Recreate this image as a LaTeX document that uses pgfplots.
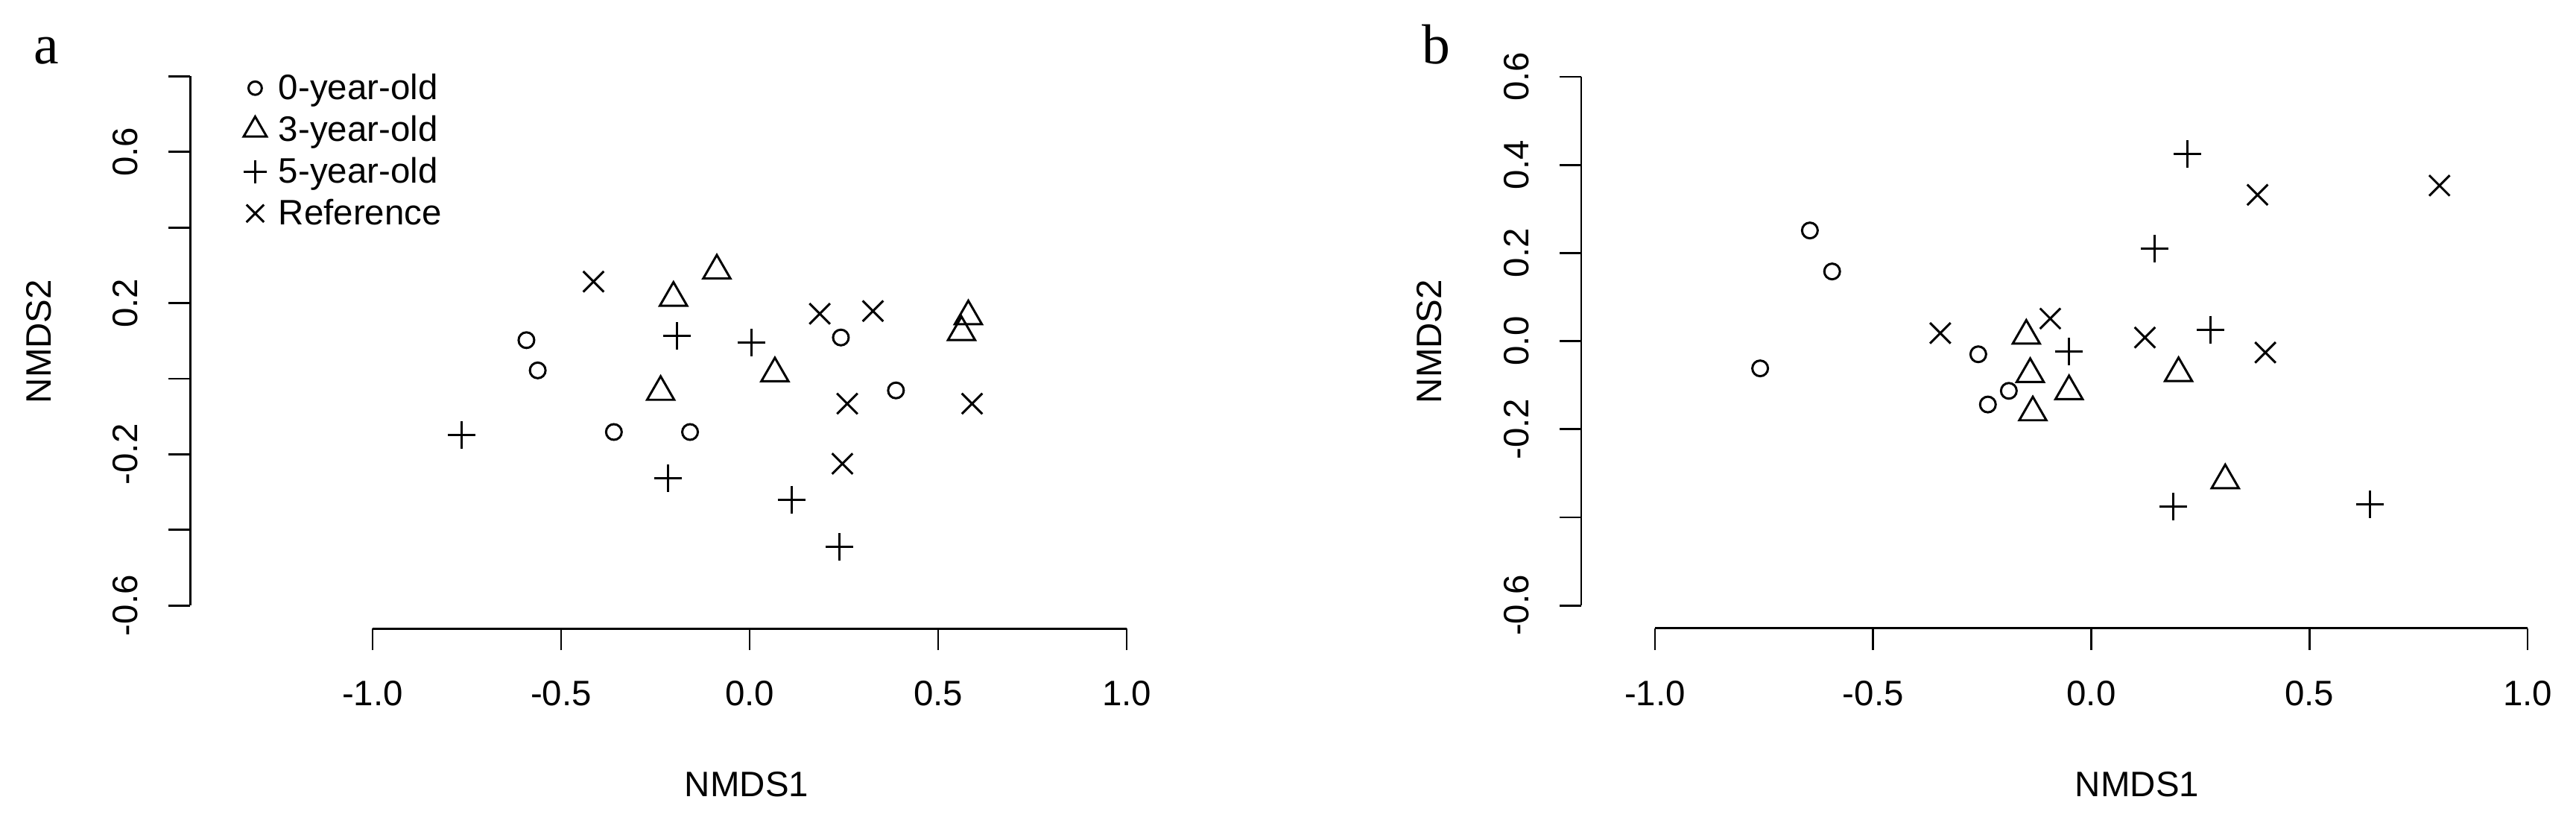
\documentclass[border=0pt]{standalone}
\usepackage{pgfplots}
\pgfplotsset{compat=1.18}
\usepackage{fontspec}
\setmainfont{Liberation Sans}
\newfontfamily\letterfont{Liberation Serif}
\newcommand\rfont{\fontsize{13.5}{16}\selectfont}

% R base-graphics look: detached axes, outside ticks, rotated y labels
\pgfplotsset{
  rplot/.style={
    anchor=origin, clip=false,
    axis x line*=bottom, axis y line*=left,
    axis line style={draw=none},
    tick align=outside, major tick length=0.29cm,
    tick style={black, line width=0.8pt},
    tick label style={font=\rfont},
    xtick={-1,-0.5,0,0.5,1},
    xticklabels={-1.0,-0.5,0.0,0.5,1.0},
    xticklabel style={inner sep=0pt},
    xticklabel shift=0.41cm,
    yticklabel style={rotate=90, anchor=south, inner sep=0pt},
    yticklabel shift=0.40cm,
  },
  circ/.style={only marks, mark=o, mark size=0.105cm, line width=0.85pt, black},
  tri/.style={only marks, mark=triangle, mark size=0.21cm, line width=0.85pt, black},
  plu/.style={only marks, mark=+, mark size=0.185cm, line width=0.85pt, black},
  crs/.style={only marks, mark=x, mark size=0.195cm, line width=0.85pt, black},
}

\begin{document}
\begin{tikzpicture}
\path[use as bounding box] (0,0) rectangle (34.57,11.07);

% ---------------- panel a ----------------
\begin{axis}[rplot,
  at={(10.06cm,5.99cm)}, x=5.06cm, y=5.07cm,
  xmin=-1.484, xmax=1.25, ymin=-0.661, ymax=0.86,
  ytick={-0.6,-0.4,-0.2,0,0.2,0.4,0.6,0.8},
  yticklabels={-0.6,,-0.2,,0.2,,0.6,},
  legend style={at={(axis cs:-1.344,0.818)}, anchor=north west,
    draw=none, fill=none, inner sep=0pt, outer sep=0pt, row sep=0pt,
    font=\rfont,
    nodes={inner xsep=0.15cm, inner ysep=0.055cm, text height=0.35cm, text depth=0.1cm}},
  legend cell align=left,
  legend image code/.code={
    \path (0cm,0cm) (0.3cm,0cm);
    \draw[mark repeat=2,mark phase=2,#1] plot coordinates {(0cm,0.03cm) (0.15cm,0.03cm) (0.3cm,0.03cm)};},
  legend image post style={/tikz/every mark/.append style={scale=0.85}},
]
\draw[line width=0.8pt] (axis cs:-1,-0.661) -- (axis cs:1,-0.661);
\draw[line width=0.8pt] (axis cs:-1.484,-0.6) -- (axis cs:-1.484,0.8);

\addplot[circ] coordinates {(-0.592,0.102) (-0.562,0.022) (-0.360,-0.141) (-0.158,-0.141) (0.242,0.109) (0.388,-0.031)};
\addlegendentry{0-year-old}
\addplot[tri] coordinates {(-0.087,0.286) (-0.202,0.214) (-0.236,-0.035) (0.067,0.014) (0.580,0.165) (0.562,0.123)};
\addlegendentry{3-year-old}
\addplot[plu] coordinates {(-0.764,-0.148) (-0.192,0.113) (0.004,0.095) (-0.216,-0.264) (0.111,-0.320) (0.238,-0.445)};
\addlegendentry{5-year-old}
\addplot[crs] coordinates {(-0.414,0.257) (0.186,0.172) (0.327,0.179) (0.259,-0.066) (0.590,-0.066) (0.246,-0.225)};
\addlegendentry{Reference}
\end{axis}

% ---------------- panel b ----------------
\begin{axis}[rplot,
  at={(28.065cm,6.495cm)}, x=5.855cm, y=5.91cm,
  xmin=-1.169, xmax=1.12, ymin=-0.652, ymax=0.66,
  ytick={-0.6,-0.4,-0.2,0,0.2,0.4,0.6},
  yticklabels={-0.6,,-0.2,0.0,0.2,0.4,0.6},
]
\draw[line width=0.8pt] (axis cs:-1,-0.652) -- (axis cs:1,-0.652);
\draw[line width=0.8pt] (axis cs:-1.169,-0.6) -- (axis cs:-1.169,0.6);

\addplot[circ] coordinates {(-0.645,0.251) (-0.594,0.158) (-0.759,-0.062) (-0.259,-0.030) (-0.189,-0.113) (-0.237,-0.144)};
\addplot[tri] coordinates {(-0.149,0.012) (-0.140,-0.075) (-0.051,-0.114) (-0.134,-0.162) (0.200,-0.073) (0.307,-0.316)};
\addplot[plu] coordinates {(0.221,0.424) (0.145,0.209) (-0.051,-0.024) (0.274,0.026) (0.188,-0.375) (0.638,-0.370)};
\addplot[crs] coordinates {(0.381,0.332) (0.798,0.353) (-0.346,0.018) (-0.094,0.051) (0.123,0.008) (0.399,-0.026)};
\end{axis}

% titles, axis labels
\node[anchor=base, font=\letterfont\fontsize{21.5}{24}\selectfont] at (0.62,10.22) {a};
\node[anchor=base, font=\letterfont\fontsize{21.5}{24}\selectfont] at (19.27,10.22) {b};
\node[font=\rfont] at (10.02,0.55) {NMDS1};
\node[font=\rfont] at (28.68,0.55) {NMDS1};
\node[font=\rfont, rotate=90] at (0.52,6.49) {NMDS2};
\node[font=\rfont, rotate=90] at (19.18,6.49) {NMDS2};
\end{tikzpicture}
\end{document}
